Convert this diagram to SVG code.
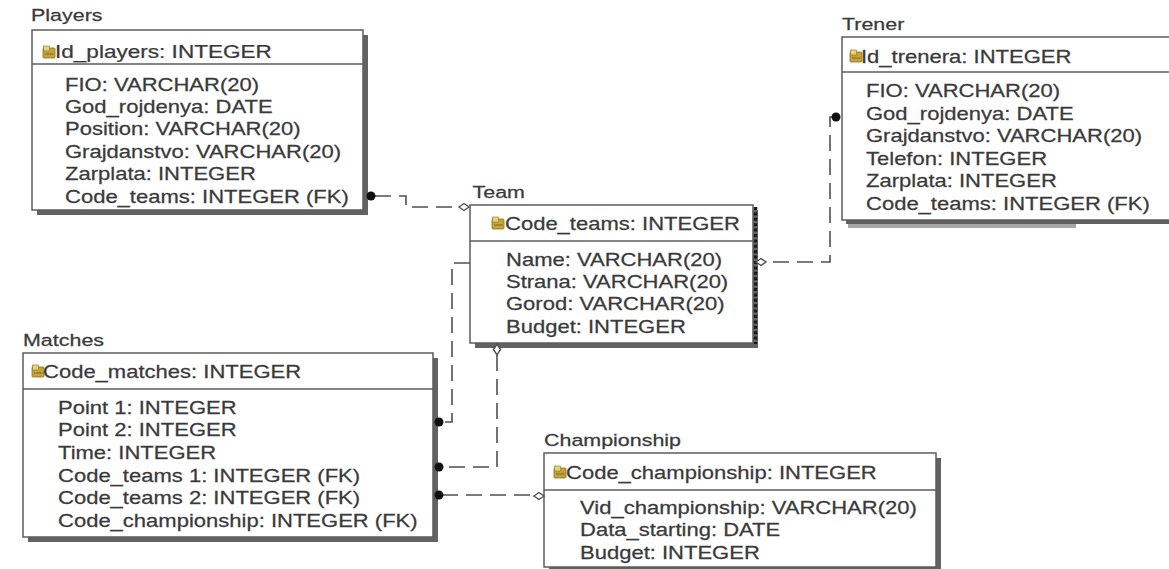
<svg xmlns="http://www.w3.org/2000/svg" width="1169" height="569" viewBox="0 0 1169 569">
  <style>
    .txt { font-family: "Liberation Sans", Arial, sans-serif; fill: #3a3a3a; stroke: #3a3a3a; stroke-width: 0.25; }
    .title { font-size: 16.5px; }
    .row { font-size: 18.5px; }
    .box { fill: #ffffff; stroke: #5c5c5c; stroke-width: 1.5; }
    .sep { stroke: #5c5c5c; stroke-width: 1.5; }
    .shadow { fill: #626262; }
    .conn { fill: none; stroke: #505050; stroke-width: 1.6; stroke-dasharray: 16 8; }
    .dot { fill: #111111; }
    .dia { fill: #ffffff; stroke: #505050; stroke-width: 1.4; }
  </style>
  <defs>
    <!-- primary-key glyph shown before each key column -->
    <g id="pk">
      <rect x="0" y="2" width="12" height="10" rx="1" fill="#c4a43a" stroke="#8a7220" stroke-width="0.8"/>
      <rect x="0.5" y="0" width="6" height="5" fill="#e6d27a" stroke="#8a7220" stroke-width="0.6"/>
      <line x1="2" y1="8" x2="10.5" y2="8" stroke="#7d6a1e" stroke-width="1"/>
    </g>
  </defs>

  <rect width="1169" height="569" fill="#ffffff"/>

  <!-- Players -->
  <g id="players">
    <text class="txt title" transform="matrix(1.3 0 0 1 31 21)">Players</text>
    <rect class="shadow" x="37" y="35" width="331" height="180"/>
    <rect class="box" x="32" y="30" width="331" height="180"/>
    <line class="sep" x1="32" y1="64" x2="363" y2="64"/>
    <use href="#pk" x="43" y="46"/>
    <text class="txt row" transform="matrix(1.22 0 0 1 55 58)">Id_players: INTEGER</text>
    <text class="txt row" transform="matrix(1.19 0 0 1 65 90.5)">
      <tspan x="0" y="0">FIO: VARCHAR(20)</tspan>
      <tspan x="0" y="22.5">God_rojdenya: DATE</tspan>
      <tspan x="0" y="45">Position: VARCHAR(20)</tspan>
      <tspan x="0" y="67.5">Grajdanstvo: VARCHAR(20)</tspan>
      <tspan x="0" y="90">Zarplata: INTEGER</tspan>
      <tspan x="0" y="112.5">Code_teams: INTEGER (FK)</tspan>
    </text>
  </g>

  <!-- Trener -->
  <g id="trener">
    <text class="txt title" transform="matrix(1.3 0 0 1 842 30)">Trener</text>
    <rect class="shadow" x="846" y="41" width="340" height="183"/>
    <rect x="848" y="224" width="228" height="4" fill="#a8a8a8"/>
    <rect class="box" x="842" y="37" width="340" height="183"/>
    <line class="sep" x1="842" y1="72" x2="1169" y2="72"/>
    <use href="#pk" x="850" y="50"/>
    <text class="txt row" transform="matrix(1.19 0 0 1 861 63)">Id_trenera: INTEGER</text>
    <text class="txt row" transform="matrix(1.19 0 0 1 866 97)">
      <tspan x="0" y="0">FIO: VARCHAR(20)</tspan>
      <tspan x="0" y="22.6">God_rojdenya: DATE</tspan>
      <tspan x="0" y="45.2">Grajdanstvo: VARCHAR(20)</tspan>
      <tspan x="0" y="67.8">Telefon: INTEGER</tspan>
      <tspan x="0" y="90.4">Zarplata: INTEGER</tspan>
      <tspan x="0" y="113">Code_teams: INTEGER (FK)</tspan>
    </text>
  </g>

  <!-- Team -->
  <g id="team">
    <text class="txt title" transform="matrix(1.3 0 0 1 472.5 198)">Team</text>
    <rect class="shadow" x="475" y="210" width="283" height="138"/>
    <line x1="755.5" y1="207" x2="755.5" y2="344" stroke="#1a1a1a" stroke-width="3.5" stroke-dasharray="3 2.4"/>
    <rect class="box" x="470" y="205" width="283" height="138"/>
    <line class="sep" x1="470" y1="241" x2="753" y2="241"/>
    <use href="#pk" x="492" y="217"/>
    <text class="txt row" transform="matrix(1.19 0 0 1 505 229.5)">Code_teams: INTEGER</text>
    <text class="txt row" transform="matrix(1.19 0 0 1 506 265.5)">
      <tspan x="0" y="0">Name: VARCHAR(20)</tspan>
      <tspan x="0" y="22.5">Strana: VARCHAR(20)</tspan>
      <tspan x="0" y="45">Gorod: VARCHAR(20)</tspan>
      <tspan x="0" y="67.5">Budget: INTEGER</tspan>
    </text>
  </g>

  <!-- Matches -->
  <g id="matches">
    <text class="txt title" transform="matrix(1.3 0 0 1 23 346)">Matches</text>
    <rect class="shadow" x="28" y="358" width="410" height="184"/>
    <rect class="box" x="23" y="353" width="410" height="184"/>
    <line class="sep" x1="23" y1="389" x2="433" y2="389"/>
    <use href="#pk" x="32" y="365"/>
    <text class="txt row" transform="matrix(1.19 0 0 1 43 378)">Code_matches: INTEGER</text>
    <text class="txt row" transform="matrix(1.19 0 0 1 58 413.5)">
      <tspan x="0" y="0">Point 1: INTEGER</tspan>
      <tspan x="0" y="22.7">Point 2: INTEGER</tspan>
      <tspan x="0" y="45.4">Time: INTEGER</tspan>
      <tspan x="0" y="68.1">Code_teams 1: INTEGER (FK)</tspan>
      <tspan x="0" y="90.8">Code_teams 2: INTEGER (FK)</tspan>
      <tspan x="0" y="113.5">Code_championship: INTEGER (FK)</tspan>
    </text>
  </g>

  <!-- Championship -->
  <g id="championship">
    <text class="txt title" transform="matrix(1.3 0 0 1 544 446)">Championship</text>
    <rect class="shadow" x="549" y="458" width="392" height="114"/>
    <rect class="box" x="544" y="453" width="392" height="114"/>
    <line class="sep" x1="544" y1="490" x2="936" y2="490"/>
    <use href="#pk" x="554" y="466"/>
    <text class="txt row" transform="matrix(1.19 0 0 1 566 479)">Code_championship: INTEGER</text>
    <text class="txt row" transform="matrix(1.19 0 0 1 580 514)">
      <tspan x="0" y="0">Vid_championship: VARCHAR(20)</tspan>
      <tspan x="0" y="22.3">Data_starting: DATE</tspan>
      <tspan x="0" y="44.6">Budget: INTEGER</tspan>
    </text>
  </g>

  <!-- Relationships -->
  <g id="connectors">
    <!-- Players.Code_teams -> Team -->
    <path class="conn" d="M375,196 H406 V207 H459"/>
    <circle class="dot" cx="371" cy="196" r="4.5"/>
    <polygon class="dia" points="459,207 464,203.5 469,207 464,210.5"/>

    <!-- Trener.Code_teams -> Team -->
    <path class="conn" d="M836,117 H830 V262 H766"/>
    <circle class="dot" cx="836" cy="117" r="4.5"/>
    <polygon class="dia" points="756,262 761,258.5 766,262 761,265.5"/>

    <!-- Matches.Code_teams 1 -> Team -->
    <path class="conn" d="M470,263 H452 V422 H442"/>
    <circle class="dot" cx="439" cy="422" r="4.5"/>

    <!-- Matches.Code_teams 2 -> Team -->
    <path class="conn" d="M497,355 V467 H442"/>
    <circle class="dot" cx="439" cy="467" r="4.5"/>
    <polygon class="dia" points="497,344 500.5,349.5 497,355 493.5,349.5"/>

    <!-- Matches.Code_championship -> Championship -->
    <path class="conn" d="M442,495 H534"/>
    <circle class="dot" cx="439" cy="495" r="4.5"/>
    <polygon class="dia" points="534,496 539,492.5 544,496 539,499.5"/>
  </g>
</svg>
